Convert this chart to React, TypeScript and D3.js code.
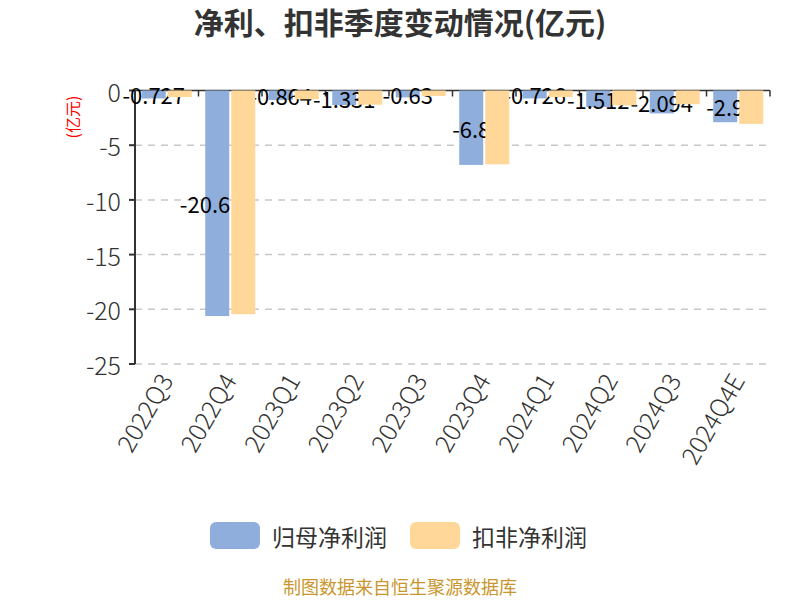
import React from "react";
import * as d3 from "d3";

const categories = ["2022Q3", "2022Q4", "2023Q1", "2023Q2", "2023Q3", "2023Q4", "2024Q1", "2024Q2", "2024Q3", "2024Q4E"];
const netProfit = [-0.727, -20.617, -0.864, -1.331, -0.63, -6.8, -0.726, -1.512, -2.094, -2.9];
const deductedProfit = [-0.6, -20.45, -0.8, -1.3, -0.5, -6.75, -0.6, -1.35, -1.25, -3.05];
const yTicks = [0, -5, -10, -15, -20, -25];
const seriesNames = ["归母净利润", "扣非净利润"];
const colors = ["#8FAEDC", "#FFD899"];

const W = 800, H = 600;
const left = 135, right = 770, top = 90.5, bottom = 364;
const font = "'Noto Sans CJK SC', 'Noto Sans', sans-serif";

export default function App() {
  const x = d3.scaleBand<string>().domain(categories).range([left, right]);
  const y = d3.scaleLinear().domain([0, -25]).range([top, bottom]);
  const bw = x.bandwidth();
  const barW = 24;
  const gap = 2;
  const offset = (bw - (barW * 2 + gap)) / 2;

  return (
    <svg width={W} height={H} style={{ position: "absolute", left: 0, top: 0 }} fontFamily={font}>
      <rect width={W} height={H} fill="#fff" />
      <text x={400} y={34} textAnchor="middle" fontSize={30} fontWeight="bold" fill="#333">净利、扣非季度变动情况(亿元)</text>
      {yTicks.filter(t => t !== 0).map(t => (
        <line key={"g" + t} x1={left} x2={right} y1={y(t)} y2={y(t)} stroke="#c8c8c8" strokeWidth={1.5} strokeDasharray="7,6" />
      ))}
      {yTicks.map(t => (
        <g key={"t" + t}>
          <line x1={left - 6} x2={left} y1={y(t)} y2={y(t)} stroke="#333" strokeWidth={2} />
          <text x={left - 14} y={y(t)} textAnchor="end" dominantBaseline="central" fontSize={25} fontWeight={300} fill="#333">{t}</text>
        </g>
      ))}
      <text transform={`translate(72, 117) rotate(-90)`} textAnchor="middle" dominantBaseline="central" fontSize={16} fill="#ff0000">(亿元)</text>
      <line x1={left} x2={right} y1={y(0)} y2={y(0)} stroke="#333" strokeWidth={1.5} />
      {categories.map((c, i) => (
        <line key={"xt" + i} x1={(x(c) as number) + bw} x2={(x(c) as number) + bw} y1={y(0)} y2={y(0) + 6} stroke="#333" strokeWidth={1.5} />
      ))}
      <line x1={left} x2={left} y1={y(0)} y2={y(-25)} stroke="#333" strokeWidth={2} />
      {categories.map((c, i) => (
        <rect key={"b" + i} x={(x(c) as number) + offset} y={y(0)} width={barW} height={y(netProfit[i]) - y(0)} fill={colors[0]} />
      ))}
      {categories.map((c, i) => (
        <text key={"l" + i} x={(x(c) as number) + offset + barW / 2} y={(y(0) + y(netProfit[i])) / 2} textAnchor="middle" dominantBaseline="central" fontSize={22} fill="#000">{netProfit[i]}</text>
      ))}
      {categories.map((c, i) => (
        <rect key={"o" + i} x={(x(c) as number) + offset + barW + gap} y={y(0)} width={barW} height={y(deductedProfit[i]) - y(0)} fill={colors[1]} />
      ))}
      {categories.map((c, i) => {
        const cx = (x(c) as number) + bw / 2;
        return (
          <text key={"xl" + i} transform={`translate(${cx - 2}, ${bottom + 11}) rotate(-60)`} textAnchor="end" dominantBaseline="central" fontSize={25} fontWeight={300} fill="#333">{c}</text>
        );
      })}
      {seriesNames.map((n, i) => (
        <g key={"lg" + i} transform={`translate(${210 + i * 200}, 522)`}>
          <rect x={0} y={0} width={50} height={27} rx={6} fill={colors[i]} />
          <text x={62} y={14} dominantBaseline="central" fontSize={23} fill="#333">{n}</text>
        </g>
      ))}
      <text x={400} y={594} textAnchor="middle" fontSize={18} fill="#C9962D">制图数据来自恒生聚源数据库</text>
    </svg>
  );
}
